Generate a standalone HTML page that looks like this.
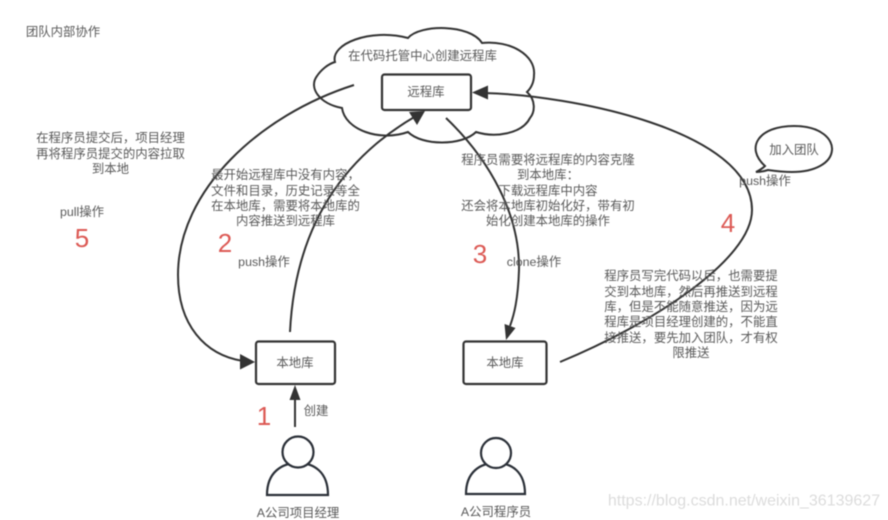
<!DOCTYPE html>
<html><head><meta charset="utf-8">
<style>
html,body{margin:0;padding:0;background:#fff;width:888px;height:520px;overflow:hidden}
svg{display:block;filter:blur(.4px)}
text{font-family:"Liberation Sans","Noto Sans CJK SC",sans-serif;font-size:12.4px;fill:#5a5a5a;text-anchor:middle;dominant-baseline:central}
.n{font-size:26px;fill:#dc5a55}
.l{fill:none;stroke:#333;stroke-width:2}
.b{fill:#fff;stroke:#333;stroke-width:2.2}
.h{fill:#333;stroke:none}
</style></head><body>
<svg width="888" height="520" viewBox="0 0 888 520" xmlns="http://www.w3.org/2000/svg">
<path class="l" d="M335,62 C330,44 370,28 408,38 C420,24 470,24 482,43 C510,40 536,55 534,75 C534,82 531,88 527,92 C536,100 535,112 530,118 C522,134 495,138 476,132 C462,146 422,146 408,132 C380,142 345,130 342,108 C320,104 308,88 317,76 C321,70 328,64 335,62 Z"/>
<rect class="b" x="382" y="74.500" width="89" height="35.500" rx="2.500"/>
<rect class="b" x="256" y="341.500" width="79" height="42.500" rx="2.500"/>
<rect class="b" x="463.500" y="341.500" width="83" height="42.500" rx="2.500"/>

<path class="l" d="M354,85 C260,115 178,190 178,275 C178,325 205,355 243,361"/>
<path class="h" d="M255,362 L240,354 L240,369.500 Z"/>
<path class="l" d="M290,332 C295,230 340,160 416,116"/>
<path class="h" d="M425,111 L409,112 L417,125 Z"/>
<path class="l" d="M446,118 C490,160 520,215 519,270 C518,300 514,315 510,326"/>
<path class="h" d="M506,340 L504.500,324 L515.500,328 Z"/>
<path class="l" d="M560,362 C650,325 752,260 752,210 C752,130 570,95 484,93"/>
<path class="h" d="M472,92.500 L488,85.500 L488,99.500 Z"/>
<path class="l" d="M295,427 L295,396"/>
<path class="h" d="M295,385 L289.500,400 L300.500,400 Z"/>

<path class="l" d="M765,166 C745,148 758,126 794,126 C822,126 833,140 832,150 C831,163 815,172 792,172 C782,172 775,171 768,170 C765,171 760,172 756,172 C760,170 763,168 765,166 Z"/>

<g fill="#fff" stroke="#2b3038" stroke-width="2.200">
<path d="M267,495 C267,472 282,463 298,463 C314,463 328,472 328,495 Z"/>
<circle cx="298" cy="452" r="15.500"/>
<path d="M466,494 C466,472 480,463 496,463 C512,463 525,472 525,494 Z"/>
<circle cx="496" cy="453" r="15"/>
</g>

<text x="63" y="32">团队内部协作</text>
<text x="422.500" y="56">在代码托管中心创建远程库</text>
<text x="426" y="92">远程库</text>

<text x="110.500" y="138">在程序员提交后，项目经理</text>
<text x="110.500" y="154">再将程序员提交的内容拉取</text>
<text x="110.500" y="169">到本地</text>
<text x="82" y="212">pull操作</text>

<text x="285.500" y="175">最开始远程库中没有内容，</text>
<text x="285.500" y="191">文件和目录，历史记录等全</text>
<text x="285.500" y="206">在本地库，需要将本地库的</text>
<text x="285.500" y="221">内容推送到远程库</text>
<text x="264" y="262">push操作</text>

<text x="548" y="160">程序员需要将远程库的内容克隆</text>
<text x="548" y="175">到本地库：</text>
<text x="548" y="191">下载远程库中内容</text>
<text x="548" y="206">还会将本地库初始化好，带有初</text>
<text x="548" y="221">始化创建本地库的操作</text>
<text x="534" y="262">clone操作</text>

<text x="691" y="276">程序员写完代码以后，也需要提</text>
<text x="691" y="292">交到本地库，然后再推送到远程</text>
<text x="691" y="307">库，但是不能随意推送，因为远</text>
<text x="691" y="322">程库是项目经理创建的，不能直</text>
<text x="691" y="338">接推送，要先加入团队，才有权</text>
<text x="691" y="353">限推送</text>

<text x="765" y="181">push操作</text>
<text x="794" y="150">加入团队</text>
<text x="295" y="363">本地库</text>
<text x="505" y="363">本地库</text>
<text x="316" y="411">创建</text>
<text x="298" y="513">A公司项目经理</text>
<text x="496" y="512">A公司程序员</text>

<text class="n" x="82" y="238">5</text>
<text class="n" x="225" y="243">2</text>
<text class="n" x="480" y="254">3</text>
<text class="n" x="728" y="223">4</text>
<text class="n" x="264" y="416">1</text>

<text x="744" y="501" style="font-size:16px;fill:#dcdcdc">https://blog.csdn.net/weixin_36139627</text>
</svg>
</body></html>
